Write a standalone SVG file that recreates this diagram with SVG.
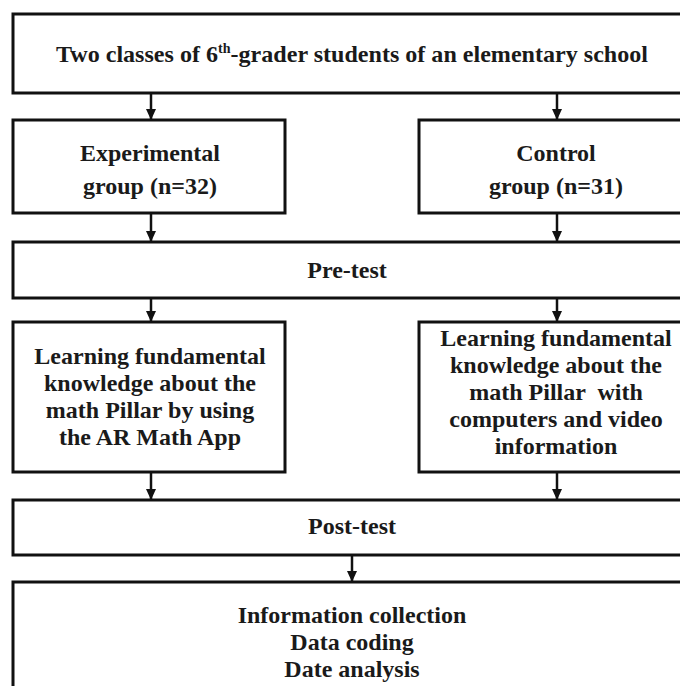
<svg xmlns="http://www.w3.org/2000/svg" width="680" height="686" viewBox="0 0 680 686">
<defs>
<marker id="ah" markerWidth="11" markerHeight="10" refX="11" refY="5" orient="auto" markerUnits="userSpaceOnUse" viewBox="0 0 11 10">
<path d="M0,0 L11,5 L0,10 Z" fill="#111"/>
</marker>
</defs>
<style>
.box{fill:#fff;stroke:#111;stroke-width:3}
.t{font-family:"Liberation Serif","Times New Roman",serif;font-weight:bold;font-size:24px;fill:#1a1a1a;text-anchor:middle}
.c{stroke:#111;stroke-width:2.5;fill:none}
</style>
<rect width="680" height="686" fill="#fff"/>
<g id="connectors">
<line class="c" x1="151" y1="93" x2="151" y2="120" marker-end="url(#ah)"/>
<line class="c" x1="557" y1="93" x2="557" y2="120" marker-end="url(#ah)"/>
<line class="c" x1="151" y1="213" x2="151" y2="242" marker-end="url(#ah)"/>
<line class="c" x1="557" y1="213" x2="557" y2="242" marker-end="url(#ah)"/>
<line class="c" x1="151" y1="298" x2="151" y2="322" marker-end="url(#ah)"/>
<line class="c" x1="557" y1="298" x2="557" y2="322" marker-end="url(#ah)"/>
<line class="c" x1="151" y1="472" x2="151" y2="500" marker-end="url(#ah)"/>
<line class="c" x1="557" y1="472" x2="557" y2="500" marker-end="url(#ah)"/>
<line class="c" x1="352" y1="555" x2="352" y2="582" marker-end="url(#ah)"/>
</g>
<g id="n-top">
<rect class="box" x="13" y="14" width="700" height="79"/>
<text class="t" x="352" y="62" textLength="592" lengthAdjust="spacingAndGlyphs">Two classes of 6<tspan font-size="14" dy="-9">th</tspan><tspan dy="9">-grader students of an elementary school</tspan></text>
</g>
<g id="n-exp">
<rect class="box" x="13" y="120" width="272" height="93"/>
<text class="t" x="150" y="161">Experimental</text>
<text class="t" x="150" y="194">group (n=32)</text>
</g>
<g id="n-ctrl">
<rect class="box" x="419" y="120" width="300" height="93"/>
<text class="t" x="556" y="161">Control</text>
<text class="t" x="556" y="194">group (n=31)</text>
</g>
<g id="n-pre">
<rect class="box" x="13" y="242" width="700" height="56"/>
<text class="t" x="347" y="278">Pre-test</text>
</g>
<g id="n-learn-exp">
<rect class="box" x="13" y="322" width="272" height="150"/>
<text class="t" x="150" y="364">Learning fundamental</text>
<text class="t" x="150" y="391">knowledge about the</text>
<text class="t" x="150" y="418">math Pillar by using</text>
<text class="t" x="150" y="445">the AR Math App</text>
</g>
<g id="n-learn-ctrl">
<rect class="box" x="419" y="322" width="300" height="150"/>
<text class="t" x="556" y="346">Learning fundamental</text>
<text class="t" x="556" y="373">knowledge about the</text>
<text class="t" x="556" y="400" xml:space="preserve">math Pillar  with</text>
<text class="t" x="556" y="427">computers and video</text>
<text class="t" x="556" y="454">information</text>
</g>
<g id="n-post">
<rect class="box" x="13" y="500" width="700" height="55"/>
<text class="t" x="352" y="534">Post-test</text>
</g>
<g id="n-analysis">
<rect class="box" x="13" y="582" width="700" height="140"/>
<text class="t" x="352" y="623">Information collection</text>
<text class="t" x="352" y="650">Data coding</text>
<text class="t" x="352" y="677">Date analysis</text>
</g>
</svg>
